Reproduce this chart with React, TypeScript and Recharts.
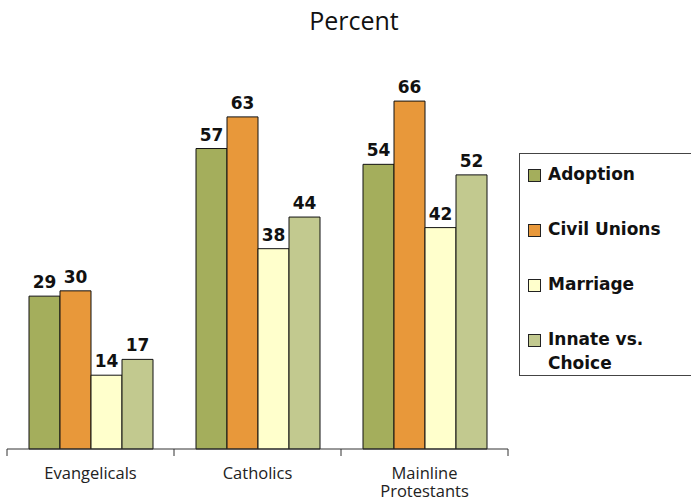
import React from "react";
import { Bar, BarChart, LabelList, XAxis, YAxis } from "recharts";

// Share (%) of each group supporting each position
const groups = ["Evangelicals", "Catholics", "Mainline Protestants"];
const adoption = [29, 57, 54];
const civilUnions = [30, 63, 66];
const marriage = [14, 38, 42];
const innate = [17, 44, 52];

const series = [
  { key: "adoption", name: "Adoption", color: "#a4ae5c", values: adoption },
  { key: "civil", name: "Civil Unions", color: "#e8983a", values: civilUnions },
  { key: "marriage", name: "Marriage", color: "#ffffcc", values: marriage },
  { key: "innate", name: "Innate vs. Choice", color: "#c2c98f", values: innate },
];

const data = groups.map((g, i) => {
  const row: Record<string, string | number> = { group: g };
  series.forEach((s) => (row[s.key] = s.values[i]));
  return row;
});

const W = 691;
const H = 504;
const AXIS_H = 30;
const MARGIN = { top: 80, right: 183, bottom: 55 - AXIS_H, left: 7 };
const BAND = (W - MARGIN.left - MARGIN.right) / groups.length;

function GroupTick(props: any) {
  const { x, y, payload, index } = props;
  const words = String(payload.value).split(" ");
  const lines = words.length > 1 ? words : [payload.value];
  const left = x - BAND / 2;
  return (
    <g>
      <line x1={left} y1={y - 8} x2={left} y2={y - 1} stroke="#333" />
      {index === groups.length - 1 && (
        <line x1={left + BAND} y1={y - 8} x2={left + BAND} y2={y - 1} stroke="#333" />
      )}
      <text
        x={x}
        y={y + 22}
        textAnchor="middle"
        fontFamily="Open Sans"
        fontSize={16.5}
        fill="#222"
      >
        {lines.map((l: string, i: number) => (
          <tspan key={i} x={x} dy={i === 0 ? 0 : 18}>
            {l}
          </tspan>
        ))}
      </text>
    </g>
  );
}

function LegendBox() {
  return (
    <div
      style={{
        position: "absolute",
        left: 519,
        top: 153,
        width: 174,
        height: 223,
        border: "1px solid #444",
        boxSizing: "border-box",
        fontFamily: "DejaVu Sans",
        fontWeight: "bold",
        fontSize: 17,
        color: "#111",
      }}
    >
      {series.map((s, i) => (
        <div
          key={s.key}
          style={{ position: "absolute", left: 8, top: 8 + i * 55, display: "flex" }}
        >
          <span
            style={{
              width: 11,
              height: 11,
              marginTop: 7,
              background: s.color,
              border: "1px solid #222",
              flex: "none",
            }}
          />
          <span style={{ marginLeft: 7, lineHeight: "24px", width: 140 }}>
            {s.name === "Innate vs. Choice" ? (
              <>
                Innate vs.
                <br />
                Choice
              </>
            ) : (
              s.name
            )}
          </span>
        </div>
      ))}
    </div>
  );
}

export default function App() {
  return (
    <div style={{ position: "absolute", left: 0, top: 0, width: W, height: H, background: "#fff" }}>
      <div
        style={{
          position: "absolute",
          left: 0,
          width: W,
          top: 3,
          textAlign: "center",
          paddingLeft: 17,
          boxSizing: "border-box",
          fontFamily: "Open Sans",
          fontSize: 25,
          color: "#111",
        }}
      >
        Percent
      </div>
      <BarChart
        width={W}
        height={H}
        data={data}
        margin={MARGIN}
        barCategoryGap={22}
        barGap={0}
      >
        <XAxis
          dataKey="group"
          height={AXIS_H}
          axisLine={{ stroke: "#333" }}
          tickLine={false}
          interval={0}
          tick={<GroupTick />}
        />
        <YAxis hide domain={[0, 70]} />
        {series.map((s) => (
          <Bar
            key={s.key}
            dataKey={s.key}
            name={s.name}
            fill={s.color}
            stroke="#111"
            strokeWidth={1}
            isAnimationActive={false}
          >
            <LabelList
              dataKey={s.key}
              position="top"
              offset={8}
              fontFamily="DejaVu Sans"
              fontWeight="bold"
              fontSize={17}
              fill="#111"
            />
          </Bar>
        ))}
      </BarChart>
      <LegendBox />
    </div>
  );
}
